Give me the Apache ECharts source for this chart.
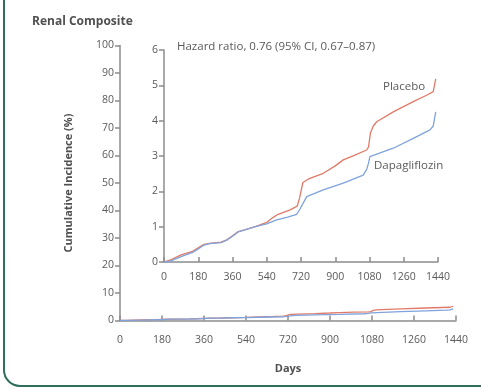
<!DOCTYPE html>
<html>
<head>
<meta charset="utf-8">
<script src="https://cdn.jsdelivr.net/npm/echarts@6/dist/echarts.min.js"></script>
<style>
  html, body { margin: 0; padding: 0; background: #fff; }
  #chart { width: 481px; height: 389px; }
</style>
</head>
<body>
<div id="chart"></div>
<script>
// Days axis ticks
const dayTicks = [0, 180, 360, 540, 720, 900, 1080, 1260, 1440];

// Cumulative incidence (%): [day, value]
const placebo = [
  [0, 0], [30, 0.05], [90, 0.2], [150, 0.3], [180, 0.4], [210, 0.5], [240, 0.53],
  [300, 0.56], [330, 0.63], [360, 0.74], [390, 0.86], [420, 0.9], [480, 1.0],
  [540, 1.12], [570, 1.25], [600, 1.35], [660, 1.47], [700, 1.58], [712, 1.8],
  [730, 2.25], [760, 2.35], [837, 2.51], [900, 2.72], [942, 2.89], [1000, 3.02],
  [1065, 3.17], [1075, 3.26], [1085, 3.65], [1100, 3.85], [1118, 3.97],
  [1205, 4.25], [1310, 4.54], [1380, 4.72], [1415, 4.82], [1428, 5.18]
];
const dapagliflozin = [
  [0, 0], [30, 0.02], [90, 0.15], [150, 0.27], [180, 0.37], [210, 0.48], [240, 0.52],
  [300, 0.55], [330, 0.62], [360, 0.73], [390, 0.85], [420, 0.9], [480, 1.0],
  [540, 1.08], [592, 1.19], [650, 1.27], [697, 1.35], [715, 1.5], [750, 1.85],
  [837, 2.04], [942, 2.23], [1047, 2.46], [1065, 2.62], [1075, 2.8],
  [1082, 2.98], [1205, 3.22], [1310, 3.5], [1398, 3.74], [1415, 3.85], [1428, 4.25]
];

const axisColor = '#8c8c8c';
const textColor = '#5a5a5a';
const fontFamily = 'Open Sans';
const plain = v => String(v);

function xAxisCfg(gridIndex, margin, extra) {
  return Object.assign({
    type: 'value', gridIndex, min: dayTicks[0], max: dayTicks[dayTicks.length - 1], interval: 180,
    axisLine: { lineStyle: { color: axisColor, width: 1.5 } },
    axisTick: { inside: true, length: 5, lineStyle: { color: axisColor, width: 1.5 } },
    axisLabel: { color: textColor, fontSize: 10.5, fontFamily, margin, formatter: plain },
    splitLine: { show: false }
  }, extra);
}

function yAxisCfg(gridIndex, max, interval, extra) {
  return Object.assign({
    type: 'value', gridIndex, min: 0, max, interval,
    axisLine: { show: true, lineStyle: { color: axisColor, width: 1.5 } },
    axisTick: { show: true, length: 5, lineStyle: { color: axisColor, width: 1.5 } },
    axisLabel: { color: textColor, fontSize: 10.5, fontFamily, margin: 6, formatter: plain },
    splitLine: { show: false }
  }, extra);
}

function lineSeries(name, data, color, idx) {
  return {
    name, type: 'line', data, xAxisIndex: idx, yAxisIndex: idx,
    showSymbol: false, silent: true,
    lineStyle: { color, width: 1.3 }, itemStyle: { color }
  };
}

const chart = echarts.init(document.getElementById('chart'));
chart.setOption({
  animation: false,
  backgroundColor: '#ffffff',
  title: {
    text: 'Renal Composite', left: 27, top: 11,
    textStyle: { fontSize: 12, fontWeight: 'bold', color: '#505050', fontFamily }
  },
  grid: [
    { left: 120, right: 25, top: 45.5, bottom: 68.5 },
    { left: 164, right: 43, top: 50, bottom: 127 }
  ],
  xAxis: [
    xAxisCfg(0, 14, {
      name: 'Days', nameLocation: 'middle', nameGap: 43,
      nameTextStyle: { color: '#505050', fontSize: 11, fontWeight: 'bold', fontFamily }
    }),
    xAxisCfg(1, 10)
  ],
  yAxis: [
    yAxisCfg(0, 100, 10, {
      name: 'Cumulative Incidence (%)', nameLocation: 'middle', nameGap: 46,
      nameTextStyle: { color: '#505050', fontSize: 11, fontWeight: 'bold', fontFamily }
    }),
    yAxisCfg(1, 6, 1)
  ],
  graphic: [
    {
      type: 'rect', silent: true, z: -1,
      shape: { x: 4, y: -30, width: 600, height: 416, r: 16 },
      style: { fill: 'transparent', stroke: '#2f6e5c', lineWidth: 2 }
    },
    {
      type: 'text', left: 177, top: 41,
      style: { text: 'Hazard ratio, 0.76 (95% CI, 0.67\u20130.87)', fill: textColor, fontSize: 11.5, fontFamily }
    },
    {
      type: 'text', left: 383, top: 81,
      style: { text: 'Placebo', fill: textColor, fontSize: 11.5, fontFamily }
    },
    {
      type: 'text', left: 374, top: 160,
      style: { text: 'Dapagliflozin', fill: textColor, fontSize: 11.5, fontFamily }
    }
  ],
  series: [
    lineSeries('Placebo', placebo, '#e07a68', 0),
    lineSeries('Dapagliflozin', dapagliflozin, '#7fa3dc', 0),
    lineSeries('Placebo', placebo, '#e07a68', 1),
    lineSeries('Dapagliflozin', dapagliflozin, '#7fa3dc', 1)
  ]
});
</script>
</body>
</html>
